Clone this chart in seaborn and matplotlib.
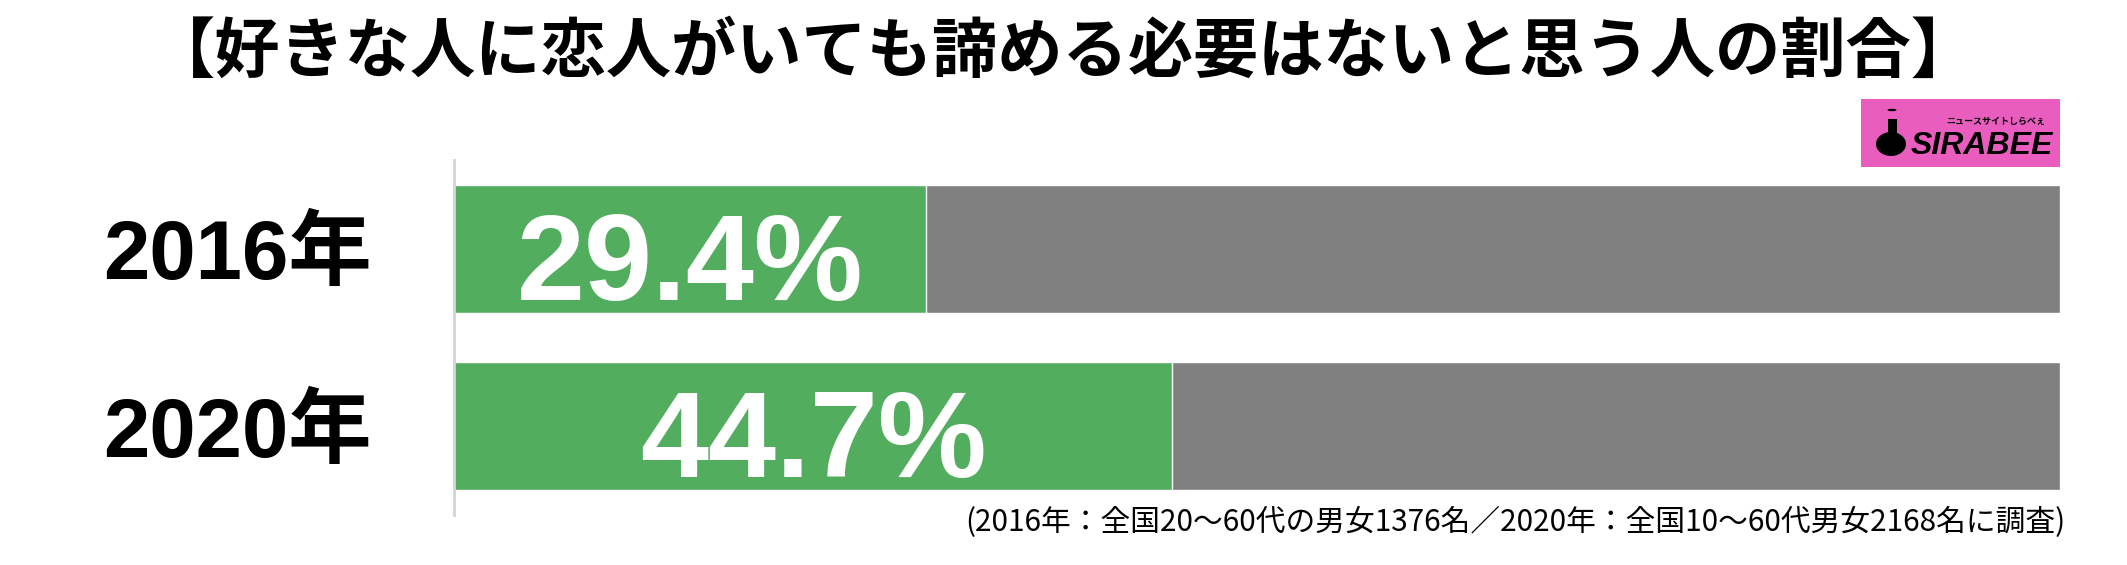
import matplotlib
matplotlib.use("Agg")
import matplotlib.pyplot as plt
import seaborn as sns
import pandas as pd
from matplotlib.patches import Rectangle, Ellipse, Circle

# ---- data ----
years = ["2016年", "2020年"]
values = [29.4, 44.7]
totals = [100, 100]
value_labels = ["29.4%", "44.7%"]
title = "【好きな人に恋人がいても諦める必要はないと思う人の割合】"
footnote = "(2016年：全国20〜60代の男女1376名／2020年：全国10〜60代男女2168名に調査)"

GREEN = "#53AD5F"
GRAY = "#808080"

sns.set_style("white")
plt.rcParams["font.family"] = ["Noto Sans CJK JP", "DejaVu Sans"]

W, H = 2127, 565
fig = plt.figure(figsize=(W / 100, H / 100), dpi=100)

ax_l, ax_r, ax_t, ax_b = 454, 2060, 160, 515
ax = fig.add_axes([ax_l / W, 1 - ax_b / H, (ax_r - ax_l) / W, (ax_b - ax_t) / H])

df = pd.DataFrame({"year": years, "value": values, "total": totals})
sns.barplot(data=df, x="total", y="year", orient="h", color=GRAY,
            width=0.72, saturation=1, ax=ax, order=years)
sns.barplot(data=df, x="value", y="year", orient="h", color=GREEN,
            width=0.72, saturation=1, ax=ax, order=years)

ax.set_xlim(0, 100)
ax.set_ylim(1.5, -0.5)
ax.set_xlabel("")
ax.set_ylabel("")
ax.set_xticks([])
for s in ["top", "right", "bottom"]:
    ax.spines[s].set_visible(False)
ax.spines["left"].set_color("#d4d4d4")
ax.spines["left"].set_linewidth(2)
ax.tick_params(axis="y", length=0, pad=59)
for lab in ax.get_yticklabels():
    lab.set_fontfamily(["Liberation Sans", "Noto Sans CJK JP"])
    lab.set_fontweight("bold")
    lab.set_fontsize(60)
    lab.set_color("black")

for i, (v, lab) in enumerate(zip(values, value_labels)):
    ax.text(v / 2, i + 0.288, lab, ha="center", va="baseline",
            fontsize=88, fontweight="bold", color="white",
            family=["Liberation Sans", "DejaVu Sans"])

# title
fig.text(1063 / W, 1 - 52 / H, title, ha="center", va="center",
         fontsize=47, fontweight="bold", color="black")

# footnote
fig.text(2065 / W, 1 - 522 / H, footnote, ha="right", va="center",
         fontsize=21.4, color="black")

# logo
lx0, lx1, ly0, ly1 = 1861, 2060, 99, 167
fig.patches.append(Rectangle((lx0 / W, 1 - ly1 / H), (lx1 - lx0) / W, (ly1 - ly0) / H,
                             transform=fig.transFigure, facecolor="#E95DBE",
                             edgecolor="none"))
fig.patches.append(Circle((1892 / W, 1 - 110 / H), 4.5 / W, transform=fig.transFigure,
                          facecolor="black", edgecolor="none"))
fig.patches.append(Rectangle((1888 / W, 1 - 140 / H), 9 / W, 21 / H,
                             transform=fig.transFigure, facecolor="black", edgecolor="none"))
fig.patches.append(Ellipse((1891 / W, 1 - 144 / H), 30 / W, 24 / H,
                           transform=fig.transFigure, facecolor="black", edgecolor="none"))
fig.text(1982 / W, 1 - 146 / H, "SIRABEE", ha="center", va="center",
         fontsize=23, fontweight="bold", fontstyle="italic", color="black",
         family=["Liberation Sans", "DejaVu Sans"])
fig.text(1996 / W, 1 - 121 / H, "ニュースサイトしらべぇ", ha="center", va="center",
         fontsize=6.5, fontweight="bold", color="black")

fig.savefig("out.png", dpi=100)
